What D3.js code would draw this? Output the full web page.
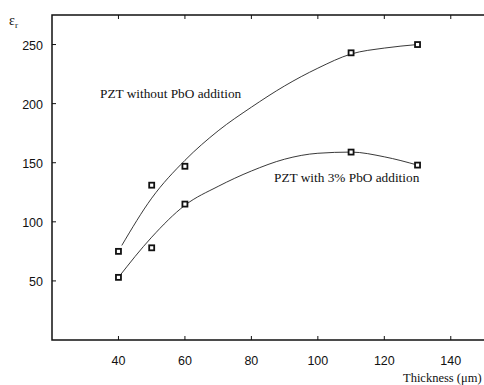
<!DOCTYPE html>
<html>
<head>
<meta charset="utf-8">
<script src="https://cdn.jsdelivr.net/npm/d3@7"></script>
<style>
  body { margin: 0; background: #fff; }
  svg { display: block; }
  .tick-label { font-family: "Liberation Sans Narrow", "Liberation Sans", sans-serif; font-size: 12.5px; fill: #111; }
  .serif { font-family: "Liberation Serif", "DejaVu Serif", serif; fill: #111; }
</style>
</head>
<body>
<svg id="chart" width="484" height="385"></svg>
<script>
// measured points (thickness in um, relative permittivity)
const thickness = [40, 50, 60, 110, 130];
const withoutPbO = [75, 131, 147, 243, 250];
const withPbO = [53, 78, 115, 159, 148];

// fitted curves
const fitWithoutX = [41, 50, 60, 70, 80, 90, 100, 110, 120, 130];
const fitWithoutY = [80, 120, 152, 177, 197, 215, 230, 242, 247, 250];
const fitWithX = [40, 50, 60, 70, 80, 90, 100, 110, 120, 130];
const fitWithY = [53, 87, 114, 130, 143, 153, 158, 159, 155, 148];

const xTicks = [40, 60, 80, 100, 120, 140];
const yTicks = [50, 100, 150, 200, 250];

const svg = d3.select('#chart');
const mLeft = 52, mRight = 484, mTop = 15, mBottom = 340;

const x = d3.scaleLinear().domain([20, 150]).range([mLeft, mRight]);
const y = d3.scaleLinear().domain([0, 275]).range([mBottom, mTop]);

// frame
svg.append('path')
  .attr('d', `M${mRight},${mTop}H${mLeft}V${mBottom}H${mRight}`)
  .attr('fill', 'none')
  .attr('stroke', '#111')
  .attr('stroke-width', 1.5);

// ticks (inward)
svg.selectAll('.xt-b').data(xTicks).enter().append('line')
  .attr('x1', d => x(d)).attr('x2', d => x(d))
  .attr('y1', mBottom).attr('y2', mBottom - 4)
  .attr('stroke', '#111');
svg.selectAll('.xt-t').data(xTicks).enter().append('line')
  .attr('x1', d => x(d)).attr('x2', d => x(d))
  .attr('y1', mTop).attr('y2', mTop + 4)
  .attr('stroke', '#111');
svg.selectAll('.yt').data(yTicks).enter().append('line')
  .attr('x1', mLeft).attr('x2', mLeft + 4)
  .attr('y1', d => y(d)).attr('y2', d => y(d))
  .attr('stroke', '#111');

svg.selectAll('.xl').data(xTicks).enter().append('text')
  .attr('class', 'tick-label')
  .attr('x', d => x(d)).attr('y', 365)
  .attr('text-anchor', 'middle')
  .text(d => d);
svg.selectAll('.yl').data(yTicks).enter().append('text')
  .attr('class', 'tick-label')
  .attr('x', 43).attr('y', d => y(d) + 5)
  .attr('text-anchor', 'end')
  .text(d => d);

// axis titles
const yt = svg.append('text').attr('class', 'serif').attr('x', 9).attr('y', 25).style('font-size', '14px');
yt.append('tspan').text('ε');
yt.append('tspan').attr('dy', 3).style('font-size', '9px').text('r');

svg.append('text').attr('class', 'serif')
  .attr('x', 403).attr('y', 382)
  .style('font-size', '12.5px')
  .text('Thickness (μm)');

// curves
const line = d3.line()
  .x(d => x(d[0])).y(d => y(d[1]))
  .curve(d3.curveMonotoneX);

svg.append('path')
  .datum(d3.zip(fitWithoutX, fitWithoutY))
  .attr('d', line)
  .attr('fill', 'none').attr('stroke', '#222').attr('stroke-width', 0.9);
svg.append('path')
  .datum(d3.zip(fitWithX, fitWithY))
  .attr('d', line)
  .attr('fill', 'none').attr('stroke', '#222').attr('stroke-width', 0.9);

// markers
function markers(vals) {
  svg.append('g').selectAll('rect')
    .data(d3.zip(thickness, vals)).enter().append('rect')
    .attr('x', d => x(d[0]) - 2.5).attr('y', d => y(d[1]) - 2.5)
    .attr('width', 5).attr('height', 5)
    .attr('fill', '#fff').attr('stroke', '#111').attr('stroke-width', 1.8);
}
markers(withoutPbO);
markers(withPbO);

// series labels
svg.append('text').attr('class', 'serif')
  .attr('x', 100).attr('y', 98).style('font-size', '13.3px')
  .text('PZT without PbO addition');
svg.append('text').attr('class', 'serif')
  .attr('x', 274).attr('y', 182).style('font-size', '13.3px')
  .text('PZT with 3% PbO addition');
</script>
</body>
</html>
